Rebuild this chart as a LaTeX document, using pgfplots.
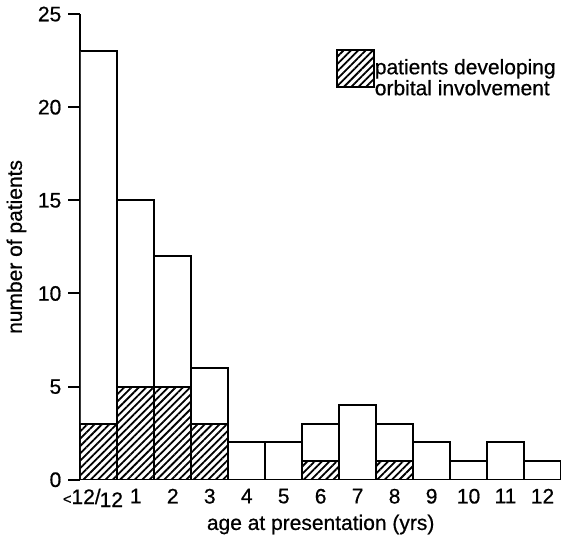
\documentclass[border=0pt]{standalone}
\usepackage{fontspec}
\setmainfont{Liberation Sans}
\newfontfamily\medfont{Liberation Sans}[FakeBold=0.6]
\usepackage{pgfplots}
\pgfplotsset{compat=1.18}
\usetikzlibrary{patterns.meta}

\tikzset{hatch/.style={pattern={Lines[angle=45,distance=2.6pt,line width=0.9pt]}}}
\newcommand{\lblfont}{\medfont\fontsize{10.5}{12}\selectfont}

\begin{document}
\begin{tikzpicture}
\begin{axis}[
    scale only axis,
    width=240.5pt, height=233pt,
    xmin=0, xmax=13,
    ymin=0, ymax=25,
    axis y line=left,
    axis x line=bottom,
    axis line style={-, line width=1pt},
    x axis line style={draw=none},
    ytick={0,5,...,25},
    xtick={0.5,1.5,...,12.5},
    xticklabels={{\scalebox{0.7}{\textless}12/\kern-0.5pt\raisebox{-1.5pt}{12}\hphantom{1}},1,2,3,4,5,6,7,8,9,10,11,12},
    x tick style={draw=none},
    y tick style={line width=1pt, black},
    tick align=outside,
    major tick length=6pt,
    /pgf/number format/assume math mode=true,
    tick label style={font=\lblfont},
    x tick label style={yshift=5pt},
    label style={font=\lblfont},
    xlabel={age at presentation (yrs)},
    ylabel={number of patients},
    xlabel style={yshift=3pt},
    ylabel style={yshift=-1pt},
    ybar, bar width=1, bar shift=0pt,
    legend style={draw=none, fill=none, at={(axis cs:6.9,23.15)}, anchor=north west,
        inner sep=0pt, font=\lblfont,
        /tikz/every odd column/.style={column sep=-2pt}},
    legend cell align=left,
]
\addplot[draw=black, line width=1pt, fill=white, forget plot] coordinates {
    (0.5,23) (1.5,15) (2.5,12) (3.5,6) (4.5,2) (5.5,2) (6.5,3)
    (7.5,4) (8.5,3) (9.5,2) (10.5,1) (11.5,2) (12.5,1)
};
\addplot[draw=black, line width=1pt, hatch,
    legend image code/.code={\draw[hatch, line width=1pt] (0pt,-7pt) rectangle (18.5pt,11.5pt);}]
    coordinates {
    (0.5,3) (1.5,5) (2.5,5) (3.5,3) (6.5,1) (8.5,1)
};
\addlegendentry{\begin{tabular}{@{}l@{}}patients developing\\[-1.5pt]orbital involvement\end{tabular}}
\end{axis}
\end{tikzpicture}
\end{document}
